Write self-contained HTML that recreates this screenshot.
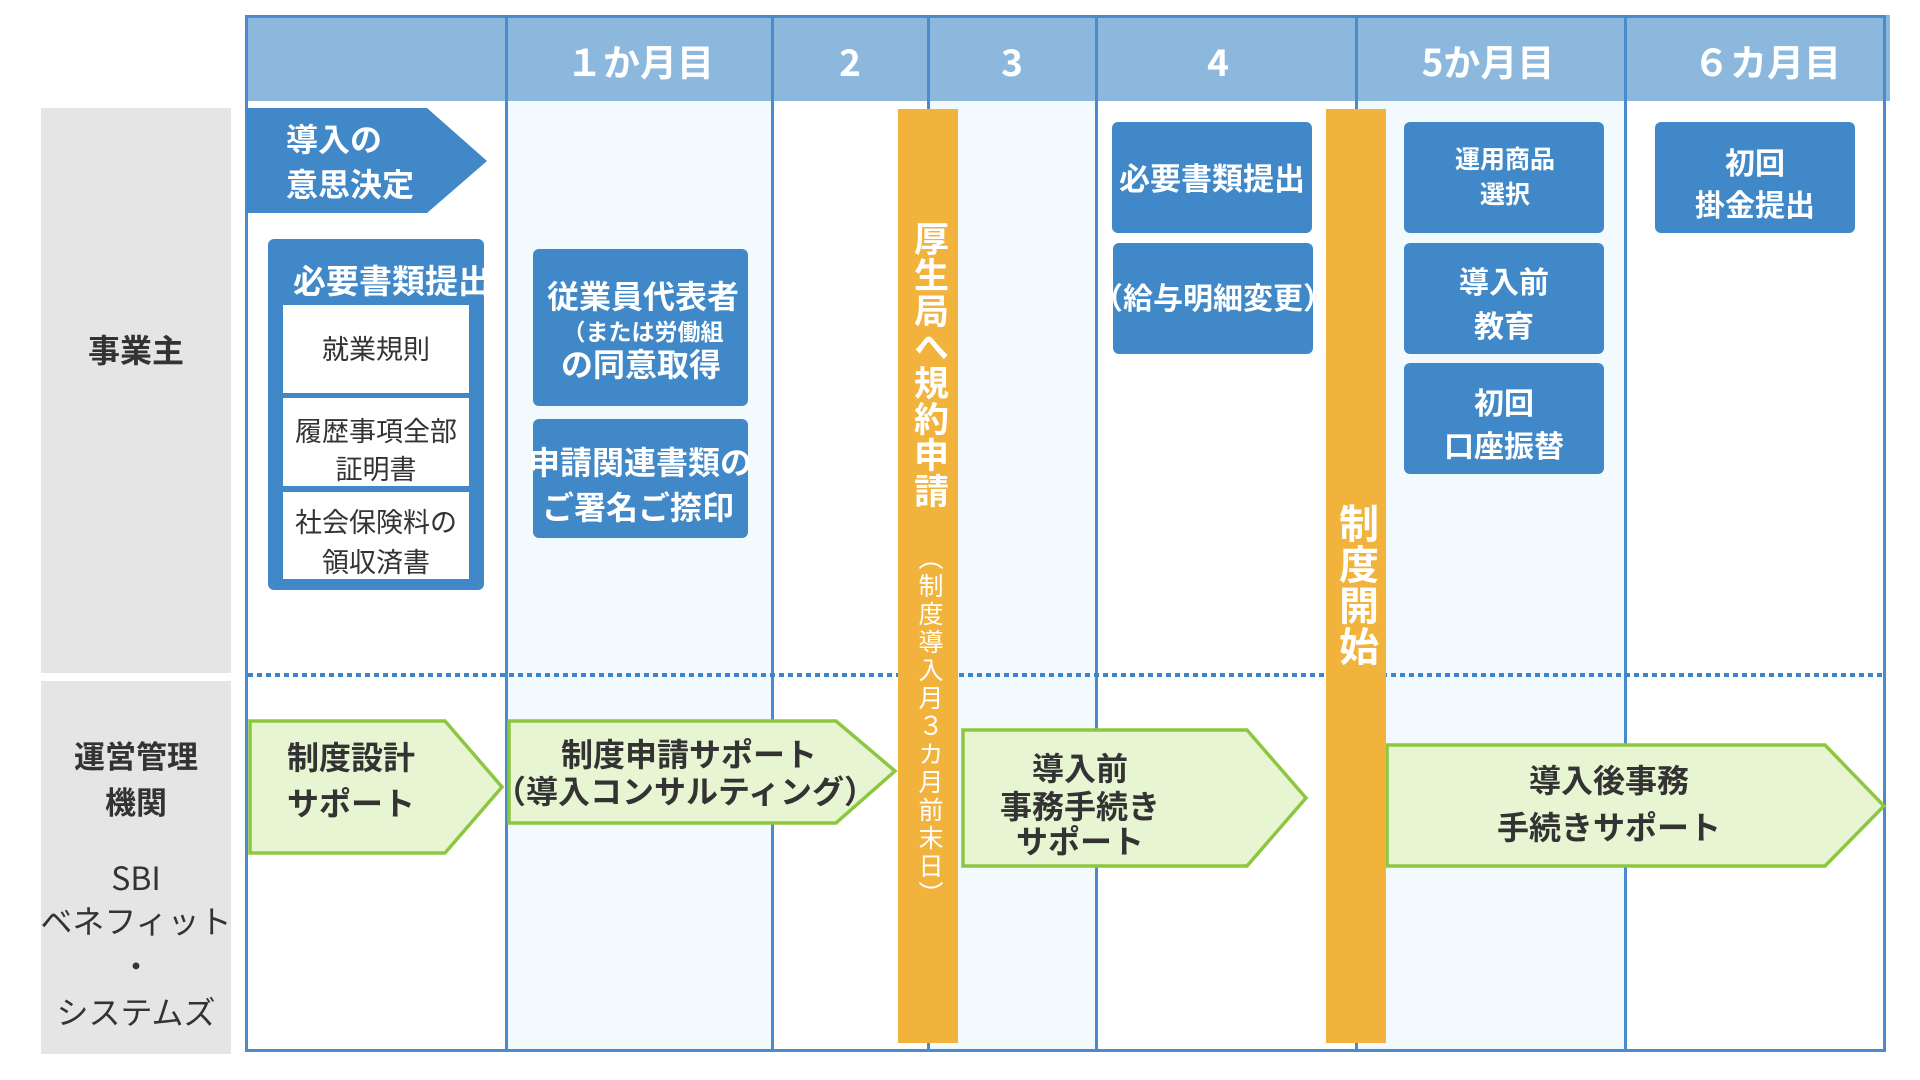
<!DOCTYPE html>
<html><head><meta charset="utf-8">
<style>
*{margin:0;padding:0;box-sizing:border-box}
html,body{width:1920px;height:1080px;overflow:hidden;background:#fff}
body{position:relative;font-family:"Liberation Sans","Noto Sans CJK JP",sans-serif}
.a{position:absolute}
.t{position:absolute;white-space:nowrap;text-align:center;width:400px}
.l{position:absolute;white-space:nowrap;text-align:left}
.w{color:#fff;font-weight:700}
.d{color:#333}
.b{font-weight:700}
.box{position:absolute;background:#4088c8;border-radius:6px}
.ln{position:absolute;background:#4a8bcd}
.v{position:absolute;writing-mode:vertical-rl;white-space:nowrap;color:#fff}
.h{font-family:"Noto Sans CJK JP","Liberation Sans",sans-serif}
</style></head><body>

<!-- gray label panels -->
<div class="a" style="left:41px;top:108px;width:190px;height:565px;background:#e5e5e5"></div>
<div class="a" style="left:41px;top:681px;width:190px;height:373px;background:#e5e5e5"></div>

<!-- light column backgrounds -->
<div class="a" style="left:507px;top:101px;width:266px;height:949px;background:#f2fafd"></div>
<div class="a" style="left:928px;top:101px;width:168px;height:949px;background:#f2fafd"></div>
<div class="a" style="left:1356px;top:101px;width:269px;height:949px;background:#f2fafd"></div>

<!-- header -->
<div class="a" style="left:246px;top:15px;width:1644px;height:86px;background:#8db8de"></div>

<!-- grid lines -->
<div class="ln" style="left:245px;top:15px;width:1641px;height:3px"></div>
<div class="ln" style="left:245px;top:15px;width:3px;height:1037px"></div>
<div class="ln" style="left:1883px;top:15px;width:3px;height:1037px"></div>
<div class="ln" style="left:245px;top:1049px;width:1641px;height:3px"></div>
<div class="ln" style="left:505px;top:15px;width:3px;height:1037px"></div>
<div class="ln" style="left:771px;top:15px;width:3px;height:1037px"></div>
<div class="ln" style="left:927px;top:15px;width:3px;height:1037px"></div>
<div class="ln" style="left:1095px;top:15px;width:3px;height:1037px"></div>
<div class="ln" style="left:1355px;top:15px;width:3px;height:1037px"></div>
<div class="ln" style="left:1624px;top:15px;width:3px;height:1037px"></div>

<!-- dotted divider -->
<div class="a" style="left:248px;top:673px;width:1635px;height:4px;background:repeating-linear-gradient(to right,#3d85c8 0 5px,transparent 5px 9px)"></div>

<!-- shapes -->
<svg class="a" style="left:0;top:0" width="1920" height="1080">
  <polygon points="246,108 427,108 487,161 427,213 246,213" fill="#4088c8"/>
  <g fill="#e8f5d2" stroke="#8dc63f" stroke-width="3.5">
    <polygon points="250,721 445,721 502,787 445,853 250,853"/>
    <polygon points="509,721 836,721 895,771 836,823 509,823"/>
    <polygon points="963,730 1247,730 1306,798 1247,866 963,866"/>
    <polygon points="1387,745 1825,745 1884,806 1825,866 1387,866"/>
  </g>
</svg>

<!-- 必要書類提出 group -->
<div class="box" style="left:268px;top:239px;width:216px;height:351px;overflow:hidden">
  <div class="l w" style="left:25px;top:22px;font-size:33px;line-height:42px">必要書類提出</div>
  <div class="a" style="left:15px;top:66px;width:186px;height:88px;background:#fff"></div>
  <div class="a" style="left:15px;top:159px;width:186px;height:88px;background:#fff"></div>
  <div class="a" style="left:15px;top:253px;width:186px;height:87px;background:#fff"></div>
</div>

<!-- blue boxes -->
<div class="box" style="left:533px;top:249px;width:215px;height:157px"></div>
<div class="box" style="left:533px;top:419px;width:215px;height:119px"></div>
<div class="box" style="left:1112px;top:122px;width:200px;height:111px"></div>
<div class="box" style="left:1113px;top:243px;width:200px;height:111px"></div>
<div class="box" style="left:1404px;top:122px;width:200px;height:111px"></div>
<div class="box" style="left:1404px;top:243px;width:200px;height:111px"></div>
<div class="box" style="left:1404px;top:363px;width:200px;height:111px"></div>
<div class="box" style="left:1655px;top:122px;width:200px;height:111px"></div>

<!-- orange bars -->
<div class="a" style="left:898px;top:109px;width:60px;height:934px;background:#f2b33d"></div>
<div class="a" style="left:1326px;top:109px;width:60px;height:934px;background:#f2b33d"></div>
<div class="v b" style="left:911px;top:221px;width:35px;font-size:35px;line-height:35px;letter-spacing:1px">厚生局へ規約申請</div>
<div class="v" style="left:916px;top:545px;width:25px;font-size:25px;line-height:25px;letter-spacing:3px">（制度導入月３カ月前末日）</div>
<div class="v b" style="left:1335px;top:503px;width:40px;font-size:40px;line-height:40px;letter-spacing:1px">制度開始</div>

<!-- header labels -->
<div class="t w h" style="left:440px;top:38px;font-size:37px;line-height:44px">１か月目</div>
<div class="t w h" style="left:650px;top:38px;font-size:37px;line-height:44px">2</div>
<div class="t w h" style="left:812px;top:38px;font-size:37px;line-height:44px">3</div>
<div class="t w h" style="left:1018px;top:38px;font-size:37px;line-height:44px">4</div>
<div class="t w h" style="left:1288px;top:38px;font-size:37px;line-height:44px">5か月目</div>
<div class="t w h" style="left:1567px;top:38px;font-size:37px;line-height:44px">６カ月目</div>

<!-- left labels -->
<div class="t d b" style="left:-64px;top:331px;font-size:32px;line-height:40px">事業主</div>
<div class="t d b" style="left:-64px;top:738px;font-size:31px;line-height:40px">運営管理</div>
<div class="t d b" style="left:-64px;top:784px;font-size:31px;line-height:40px">機関</div>
<div class="t d h" style="left:-64px;top:857px;font-size:32px;line-height:40px">SBI</div>
<div class="t d" style="left:-64px;top:902px;font-size:32px;line-height:40px">ベネフィット</div>
<div class="t d" style="left:-64px;top:947px;font-size:32px;line-height:40px">・</div>
<div class="t d" style="left:-64px;top:993px;font-size:32px;line-height:40px">システムズ</div>

<!-- decision arrow text -->
<div class="l w" style="left:286px;top:120px;font-size:32px;line-height:40px">導入の</div>
<div class="l w" style="left:286px;top:165px;font-size:32px;line-height:40px">意思決定</div>

<!-- white box texts -->
<div class="t d" style="left:176px;top:332px;font-size:27px;line-height:36px">就業規則</div>
<div class="t d" style="left:176px;top:414px;font-size:27px;line-height:36px">履歴事項全部</div>
<div class="t d" style="left:176px;top:452px;font-size:27px;line-height:36px">証明書</div>
<div class="t d" style="left:176px;top:505px;font-size:27px;line-height:36px">社会保険料の</div>
<div class="t d" style="left:176px;top:545px;font-size:27px;line-height:36px">領収済書</div>

<!-- column 2 box texts -->
<div class="t w" style="left:443px;top:277px;font-size:32px;line-height:40px">従業員代表者</div>
<div class="t w" style="left:443px;top:317px;font-size:23px;line-height:30px">（または労働組</div>
<div class="t w" style="left:441px;top:345px;font-size:32px;line-height:40px">の同意取得</div>
<div class="t w" style="left:440px;top:443px;font-size:32px;line-height:40px">申請関連書類の</div>
<div class="t w" style="left:438px;top:488px;font-size:32px;line-height:40px">ご署名ご捺印</div>

<!-- column 4 -->
<div class="t w" style="left:1012px;top:160px;font-size:31px;line-height:40px">必要書類提出</div>
<div class="t w" style="left:1013px;top:280px;font-size:30px;line-height:40px">（給与明細変更）</div>

<!-- column 5 -->
<div class="t w" style="left:1305px;top:144px;font-size:25px;line-height:32px">運用商品</div>
<div class="t w" style="left:1305px;top:179px;font-size:25px;line-height:32px">選択</div>
<div class="t w" style="left:1304px;top:264px;font-size:30px;line-height:40px">導入前</div>
<div class="t w" style="left:1304px;top:308px;font-size:30px;line-height:40px">教育</div>
<div class="t w" style="left:1304px;top:385px;font-size:30px;line-height:40px">初回</div>
<div class="t w" style="left:1304px;top:428px;font-size:30px;line-height:40px">口座振替</div>

<!-- column 6 -->
<div class="t w" style="left:1555px;top:145px;font-size:30px;line-height:40px">初回</div>
<div class="t w" style="left:1555px;top:187px;font-size:30px;line-height:40px">掛金提出</div>

<!-- green arrow texts -->
<div class="l d b" style="left:287px;top:738px;font-size:32px;line-height:40px">制度設計</div>
<div class="l d b" style="left:287px;top:784px;font-size:32px;line-height:40px">サポート</div>
<div class="t d b" style="left:489px;top:735px;font-size:32px;line-height:40px">制度申請サポート</div>
<div class="t d b" style="left:485px;top:772px;font-size:32px;line-height:40px">（導入コンサルティング）</div>
<div class="t d b" style="left:880px;top:749px;font-size:32px;line-height:40px">導入前</div>
<div class="t d b" style="left:880px;top:787px;font-size:32px;line-height:40px">事務手続き</div>
<div class="t d b" style="left:880px;top:822px;font-size:32px;line-height:40px">サポート</div>
<div class="t d b" style="left:1409px;top:761px;font-size:32px;line-height:40px">導入後事務</div>
<div class="t d b" style="left:1409px;top:808px;font-size:32px;line-height:40px">手続きサポート</div>

</body></html>
